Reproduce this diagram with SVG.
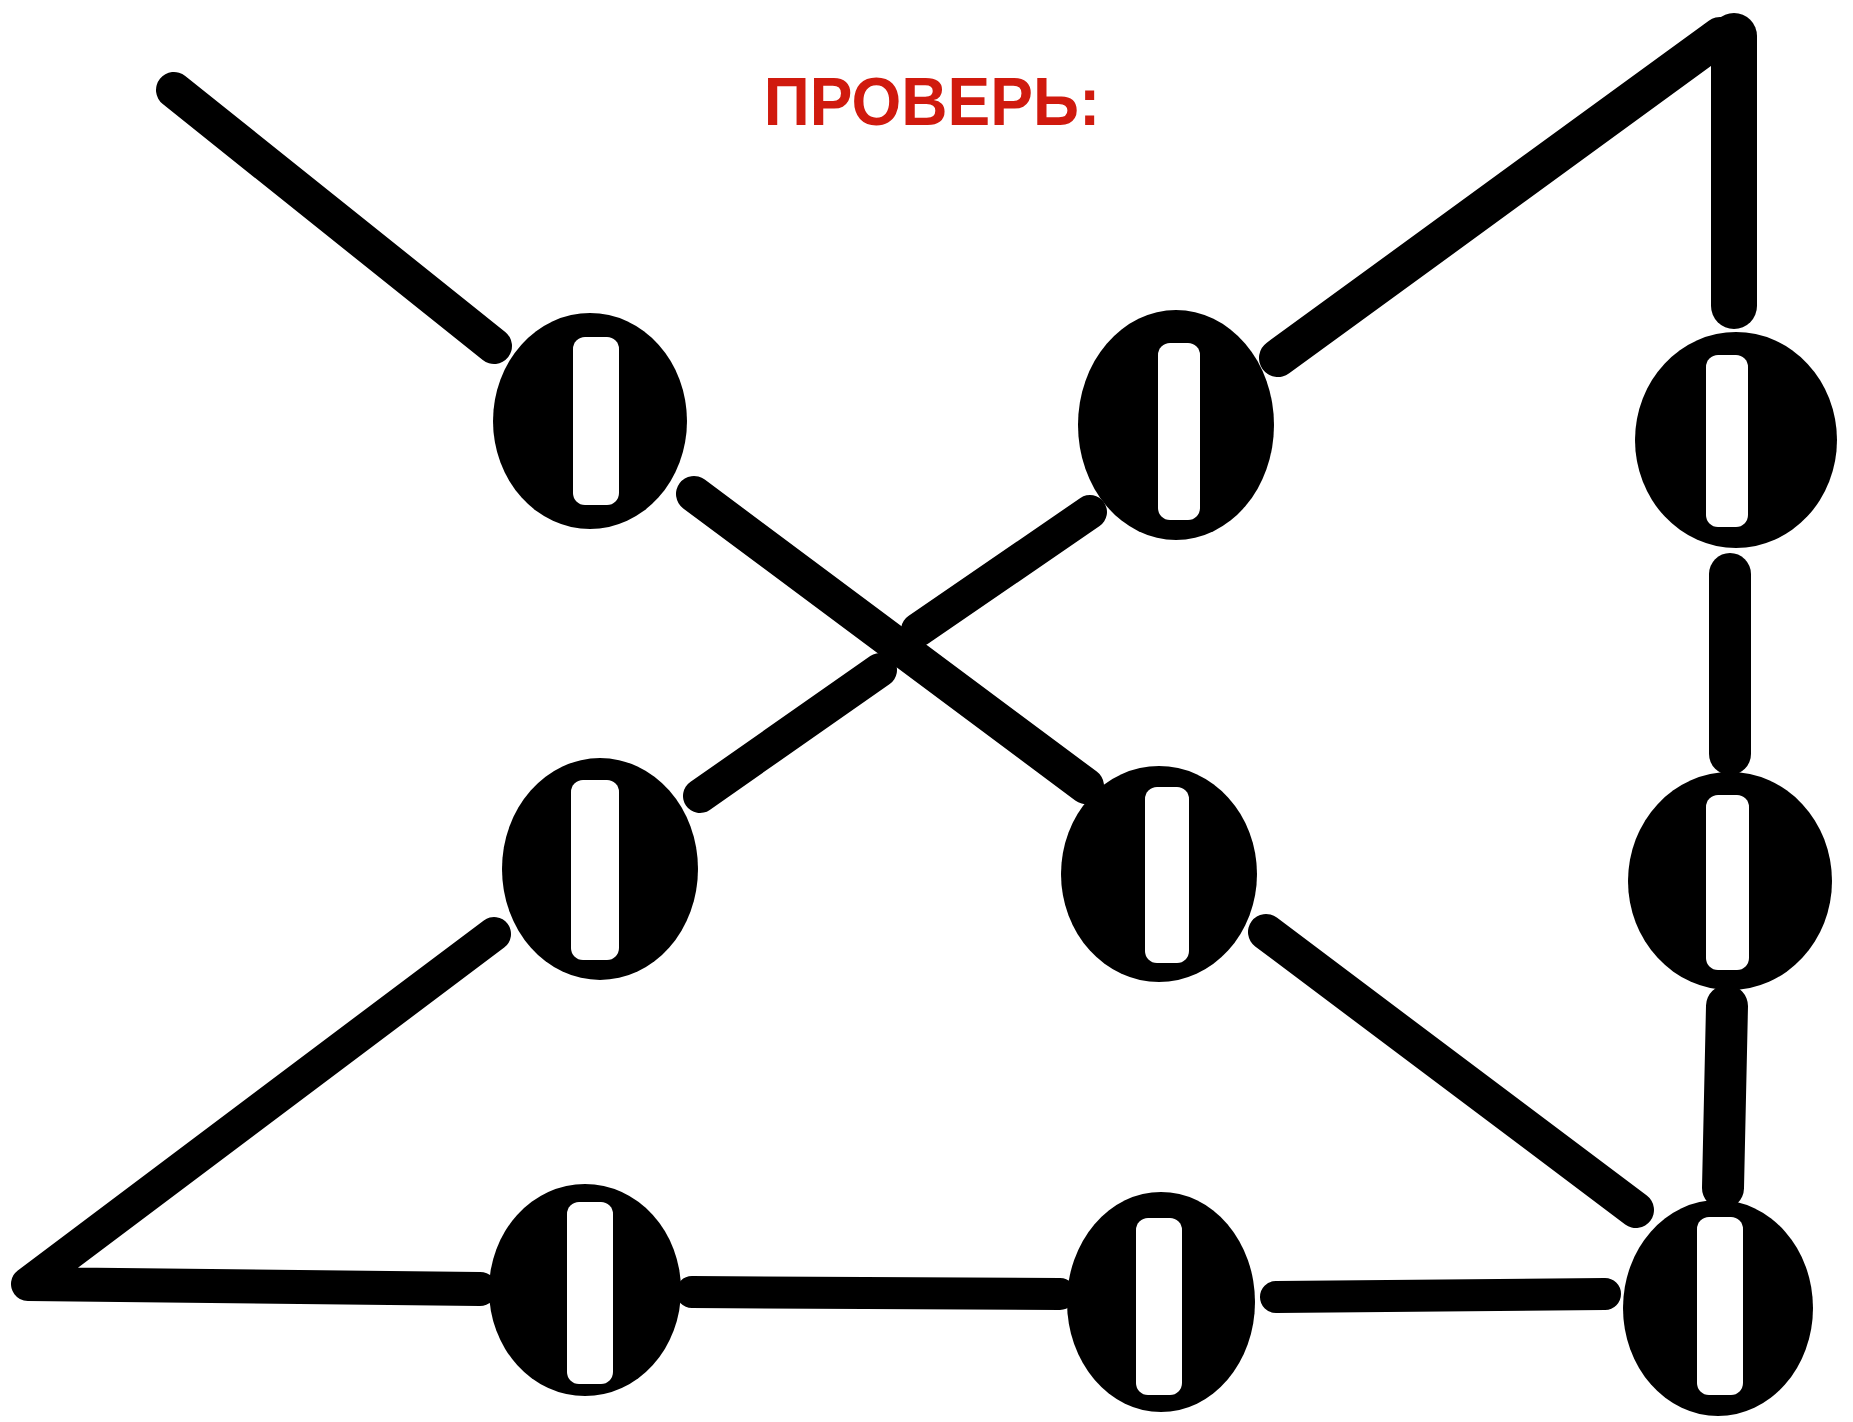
<svg xmlns="http://www.w3.org/2000/svg" width="1853" height="1422" viewBox="0 0 1853 1422">
<style>
.bead{fill:#000}
.hole{fill:#fff}
.ln{fill:none;stroke:#000;stroke-linecap:round;stroke-linejoin:round}
.title{font-family:"Liberation Sans",Arial,sans-serif;font-weight:bold;font-size:64px;fill:#d01a0e}
</style>
<rect width="1853" height="1422" fill="#fff"/>
<text class="title" transform="translate(932,125) scale(1,1.06)" x="0" y="0" text-anchor="middle">ПРОВЕРЬ:</text>
<g id="connectors">
<line class="ln" x1="174" y1="90" x2="494" y2="346" stroke-width="36"/>
<line class="ln" x1="694" y1="494" x2="1086" y2="786" stroke-width="36"/>
<line class="ln" x1="700" y1="796" x2="880" y2="670" stroke-width="34"/>
<line class="ln" x1="918" y1="630" x2="1090" y2="512" stroke-width="34"/>
<polyline class="ln" points="494,934 28,1284 480,1289" stroke-width="34"/>
<line class="ln" x1="692" y1="1292" x2="1060" y2="1294" stroke-width="32"/>
<line class="ln" x1="1276" y1="1297" x2="1605" y2="1294" stroke-width="32"/>
<line class="ln" x1="1266" y1="932" x2="1636" y2="1210" stroke-width="36"/>
<line class="ln" x1="1278" y1="358" x2="1720" y2="36" stroke-width="38"/>
<line class="ln" x1="1734" y1="36" x2="1734" y2="306" stroke-width="46"/>
<line class="ln" x1="1730" y1="574" x2="1730" y2="754" stroke-width="42"/>
<line class="ln" x1="1727" y1="1006" x2="1723" y2="1188" stroke-width="42"/>
</g>
<g id="node-tl"><ellipse class="bead" cx="590" cy="421" rx="97" ry="108"/><rect class="hole" x="573" y="337" width="46" height="168" rx="12"/></g>
<g id="node-tm"><ellipse class="bead" cx="1176" cy="425" rx="98" ry="115"/><rect class="hole" x="1158" y="343" width="42" height="177" rx="12"/></g>
<g id="node-tr"><ellipse class="bead" cx="1736" cy="440" rx="101" ry="108"/><rect class="hole" x="1706" y="355" width="42" height="172" rx="12"/></g>
<g id="node-ml"><ellipse class="bead" cx="600" cy="869" rx="98" ry="111"/><rect class="hole" x="571" y="780" width="48" height="180" rx="12"/></g>
<g id="node-mm"><ellipse class="bead" cx="1159" cy="874" rx="98" ry="108"/><rect class="hole" x="1145" y="787" width="44" height="176" rx="12"/></g>
<g id="node-mr"><ellipse class="bead" cx="1730" cy="881" rx="102" ry="109"/><rect class="hole" x="1706" y="795" width="43" height="175" rx="12"/></g>
<g id="node-bl"><ellipse class="bead" cx="585" cy="1290" rx="96" ry="106"/><rect class="hole" x="567" y="1202" width="46" height="182" rx="12"/></g>
<g id="node-bm"><ellipse class="bead" cx="1161" cy="1302" rx="94" ry="110"/><rect class="hole" x="1136" y="1218" width="46" height="177" rx="12"/></g>
<g id="node-br"><ellipse class="bead" cx="1718" cy="1308" rx="95" ry="108"/><rect class="hole" x="1697" y="1217" width="46" height="178" rx="12"/></g>
</svg>
